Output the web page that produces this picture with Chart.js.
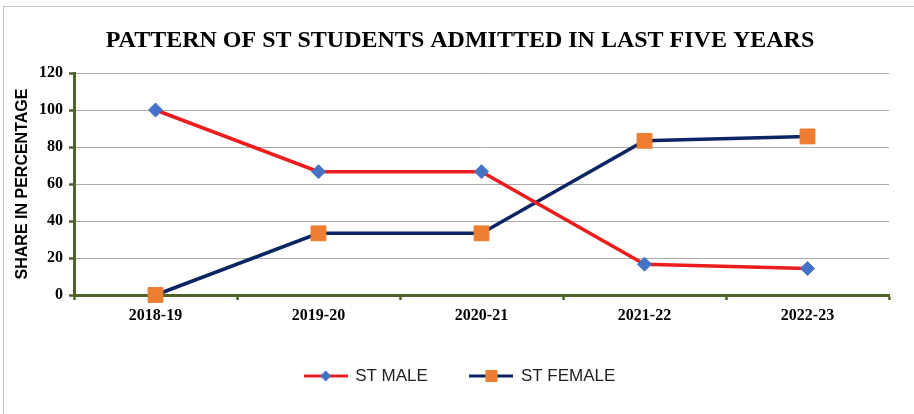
<!DOCTYPE html>
<html>
<head>
<meta charset="utf-8">
<script src="https://cdn.jsdelivr.net/npm/chart.js@4.4.1/dist/chart.umd.min.js"></script>
<style>
  html, body { margin: 0; padding: 0; background: #fff; }
  #wrap { position: relative; width: 914px; height: 414px; overflow: hidden; }
  #frame { position: absolute; left: 3px; top: 6px; width: 940px; height: 440px; border: 1px solid #c4c4c4; pointer-events: none; }
  canvas { position: absolute; left: 0; top: 0; }
</style>
</head>
<body>
<div id="wrap">
  <canvas id="chart" width="914" height="414"></canvas>
  <div id="frame"></div>
</div>
<script>
  const years = ['2018-19', '2019-20', '2020-21', '2021-22', '2022-23'];
  const stMale = [100, 66.67, 66.67, 16.67, 14.29];
  const stFemale = [0, 33.33, 33.33, 83.33, 85.71];
  const yTicks = [0, 20, 40, 60, 80, 100, 120];

  const RED = '#ee1c1c';
  const NAVY = '#0b2463';
  const BLUE = '#4472c4';
  const ORANGE = '#ed7d31';
  const GREEN = '#4f6228';

  // small line+marker swatch for the legend
  function swatch(lineColor, markerColor, shape) {
    const c = document.createElement('canvas');
    c.width = 44; c.height = 16;
    const g = c.getContext('2d');
    g.strokeStyle = lineColor;
    g.lineWidth = 3;
    g.beginPath(); g.moveTo(0, 8); g.lineTo(44, 8); g.stroke();
    g.fillStyle = markerColor;
    if (shape === 'diamond') {
      g.beginPath(); g.moveTo(22, 2.5); g.lineTo(27.5, 8); g.lineTo(22, 13.5); g.lineTo(16.5, 8); g.closePath(); g.fill();
    } else {
      g.fillRect(16, 2, 12, 12);
    }
    return c;
  }
  const swatches = [swatch(RED, BLUE, 'diamond'), swatch(NAVY, ORANGE, 'square')];

  new Chart(document.getElementById('chart'), {
    type: 'line',
    data: {
      labels: years,
      datasets: [
        {
          label: 'ST MALE',
          data: stMale,
          borderColor: RED,
          borderWidth: 3.5,
          tension: 0,
          clip: false,
          pointStyle: 'rectRot',
          pointRadius: 7,
          pointBackgroundColor: BLUE,
          pointBorderColor: BLUE,
          pointBorderWidth: 1
        },
        {
          label: 'ST FEMALE',
          data: stFemale,
          borderColor: NAVY,
          borderWidth: 3.5,
          tension: 0,
          clip: false,
          pointStyle: 'rect',
          pointRadius: 10.5,
          pointBackgroundColor: ORANGE,
          pointBorderColor: ORANGE,
          pointBorderWidth: 1
        }
      ]
    },
    options: {
      responsive: false,
      devicePixelRatio: 1,
      animation: false,
      layout: { padding: { left: 31, right: 25, top: 0, bottom: 19.5 } },
      plugins: {
        tooltip: { enabled: false },
        title: {
          display: true,
          text: 'PATTERN OF ST STUDENTS ADMITTED IN LAST FIVE YEARS',
          color: '#000',
          font: { family: '"Liberation Serif", "Times New Roman", serif', size: 24, weight: 'bold', lineHeight: 1.2 },
          padding: { top: 26, bottom: 18.2 }
        },
        legend: {
          position: 'bottom',
          labels: {
            color: '#222',
            font: { family: '"Liberation Sans", Arial, sans-serif', size: 17 },
            usePointStyle: true,
            pointStyleWidth: 42,
            padding: 42.5,
            generateLabels: (chart) => chart.data.datasets.map((ds, i) => ({
              text: ds.label,
              pointStyle: swatches[i],
              fillStyle: 'transparent',
              strokeStyle: 'transparent',
              lineWidth: 0,
              hidden: false,
              datasetIndex: i,
              fontColor: '#222'
            }))
          }
        }
      },
      scales: {
        x: {
          offset: true,
          afterFit: (s) => { s.height = 30; },
          grid: { drawOnChartArea: false, offset: true, drawTicks: true, tickLength: 5, tickWidth: 2.5, tickColor: GREEN },
          border: { display: true, color: GREEN, width: 3 },
          ticks: {
            color: '#000',
            padding: 6,
            font: { family: '"Liberation Serif", "Times New Roman", serif', size: 16, weight: 'bold' }
          }
        },
        y: {
          min: 0,
          max: 120,
          afterFit: (s) => { s.width = 43; },
          afterBuildTicks: (s) => { s.ticks = yTicks.map((v) => ({ value: v })); },
          grid: { color: '#a8a8a8', lineWidth: 1, drawTicks: true, tickLength: 5, tickWidth: 2.5, tickColor: GREEN },
          border: { display: true, color: GREEN, width: 3 },
          ticks: {
            color: '#000',
            padding: 6,
            font: { family: '"Liberation Serif", "Times New Roman", serif', size: 16, weight: 'bold' }
          },
          title: {
            display: true,
            text: 'SHARE IN PERCENTAGE',
            color: '#000',
            padding: { top: -18, bottom: 0 },
            font: { family: '"Liberation Sans", Arial, sans-serif', size: 16, weight: 'bold', lineHeight: 1.2 }
          }
        }
      }
    }
  });
</script>
</body>
</html>
